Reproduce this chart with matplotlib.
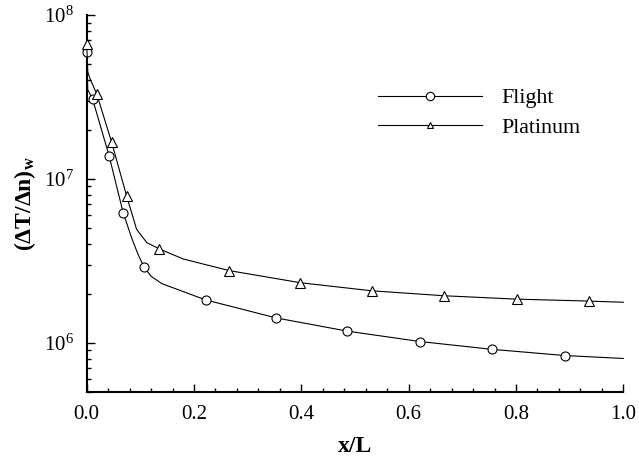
import math
import matplotlib
matplotlib.use("Agg")
import matplotlib.pyplot as plt
from matplotlib.lines import Line2D
from matplotlib.ticker import LogLocator, FixedLocator, MultipleLocator, FuncFormatter

plt.rcParams["font.family"] = ["Liberation Serif", "DejaVu Serif"]
plt.rcParams["mathtext.fontset"] = "custom"
plt.rcParams["mathtext.rm"] = "Liberation Serif"
plt.rcParams["mathtext.it"] = "Liberation Serif:italic"
plt.rcParams["mathtext.bf"] = "Liberation Serif:bold"

# Wall temperature gradient along the body, x/L
x_flight = [0.0, 0.002, 0.011, 0.0416, 0.068, 0.0845, 0.096, 0.1068, 0.12, 0.14,
            0.2216, 0.3535, 0.486, 0.621, 0.7557, 0.8906, 1.0]
y_flight = [5.93e7, 3.5e7, 3.07e7, 1.39e7, 6.22e6, 4.3e6, 3.45e6, 2.9e6, 2.55e6, 2.3e6,
            1.83e6, 1.42e6, 1.18e6, 1.02e6, 9.14e5, 8.38e5, 8.04e5]
marks_flight = [0, 2, 3, 4, 7, 10, 11, 12, 13, 14, 15]

x_platinum = [0.0, 0.002, 0.006, 0.0186, 0.0466, 0.0745, 0.093, 0.112, 0.135, 0.18,
              0.266, 0.398, 0.531, 0.666, 0.801, 0.9355, 1.0]
y_platinum = [6.67e7, 4.5e7, 4.1e7, 3.31e7, 1.67e7, 7.85e6, 4.93e6, 4.09e6, 3.75e6, 3.25e6,
              2.76e6, 2.33e6, 2.08e6, 1.94e6, 1.85e6, 1.80e6, 1.77e6]
marks_platinum = [0, 3, 4, 5, 8, 10, 11, 12, 13, 14, 15]

series_labels = ["Flight", "Platinum"]
x_ticks = [0.0, 0.2, 0.4, 0.6, 0.8, 1.0]

fig = plt.figure(figsize=(6.39, 4.62), dpi=100)
ax = fig.add_axes([86.7 / 639, 1 - 392.3 / 462, (623.3 - 86.7) / 639, (392.3 - 15) / 462])

mk = dict(color="black", lw=0.8, markerfacecolor="white", markeredgecolor="black",
          markeredgewidth=0.8, markersize=6.5, clip_on=False, zorder=3)
ax.plot(x_flight, y_flight, marker="o", markevery=marks_flight, **mk)
ax.plot(x_platinum, y_platinum, marker="^", markevery=marks_platinum, **mk)

ax.set_yscale("log")
ax.set_xlim(0.0, 1.0)
ax.set_ylim(5e5, 1e8)

ax.spines["top"].set_visible(False)
ax.spines["right"].set_visible(False)
for s in ("left", "bottom"):
    ax.spines[s].set_linewidth(1.5)

ax.xaxis.set_major_locator(FixedLocator(x_ticks))
ax.xaxis.set_minor_locator(MultipleLocator(0.04))
ax.xaxis.set_major_formatter(FuncFormatter(lambda v, p: f"{v:.1f}"))
ax.yaxis.set_major_locator(LogLocator(base=10, numticks=10))
ax.yaxis.set_minor_locator(LogLocator(base=10, subs=range(2, 10), numticks=20))
ax.yaxis.set_major_formatter(FuncFormatter(lambda v, p: r"$10^{%d}$" % round(math.log10(v))))

ax.tick_params(which="both", direction="in", width=1.0, top=False, right=False)
ax.tick_params(which="major", length=5.5)
ax.tick_params(which="minor", length=2.8)
ax.tick_params(axis="x", which="major", labelsize=15, pad=9)
ax.tick_params(axis="y", which="major", labelsize=15, pad=9)
ax.tick_params(axis="y", which="minor", labelleft=False)

ax.set_xlabel("x/L", fontsize=17, fontweight="bold")
ax.xaxis.set_label_coords(0.5, -(446.7 - 392.3) / (392.3 - 15), transform=ax.transAxes)
ax.xaxis.label.set_va("center")
ax.set_ylabel(r"$\mathbf{(\Delta T/\Delta n)_w}$", fontsize=17)
ax.yaxis.set_label_coords(-(86.7 - 25) / (623.3 - 86.7), 0.5, transform=ax.transAxes)
ax.yaxis.label.set_va("center")

handles = [
    Line2D([], [], color="black", lw=0.8, marker="o", markersize=6, markerfacecolor="white",
           markeredgecolor="black", markeredgewidth=0.8),
    Line2D([], [], color="black", lw=0.8, marker="^", markersize=5, markerfacecolor="white",
           markeredgecolor="black", markeredgewidth=0.8),
]
leg = ax.legend(handles, series_labels, loc="upper left",
                bbox_to_anchor=(378 / 639, 1 - 88 / 462), bbox_transform=fig.transFigure,
                frameon=False, fontsize=15.8, handlelength=4.75, handletextpad=0.85,
                labelspacing=0.42, borderpad=0, borderaxespad=0, numpoints=1)

fig.savefig("out.png", dpi=100)
